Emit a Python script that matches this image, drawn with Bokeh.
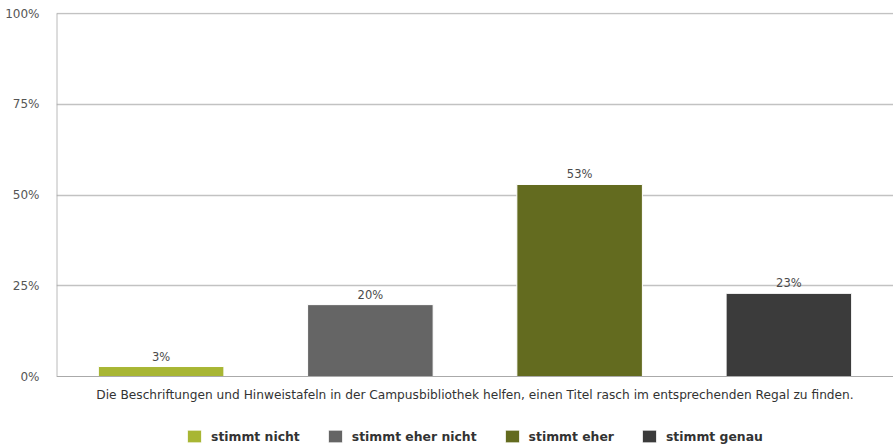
from bokeh.plotting import figure
from bokeh.models import (ColumnDataSource, FactorRange, Range1d, Label, LabelSet, Legend, LegendItem,
                          FixedTicker, CustomJSTickFormatter)
from bokeh.core.properties import value
from bokeh.embed import file_html
from bokeh.resources import INLINE

categories = ["stimmt nicht", "stimmt eher nicht", "stimmt eher", "stimmt genau"]
values = [2.75, 19.8, 52.9, 22.9]
value_labels = ["3%", "20%", "53%", "23%"]
colors = ["#A8B634", "#656565", "#636B1F", "#3B3B3B"]
y_ticks = [0, 25, 50, 75, 100]
question = "Die Beschriftungen und Hinweistafeln in der Campusbibliothek helfen, einen Titel rasch im entsprechenden Regal zu finden."

FONT = "DejaVu Sans"
K = 3.63  # px per percent

src = ColumnDataSource(dict(cat=categories, val=values, lab=value_labels, col=colors))

p = figure(width=893, height=448, x_range=FactorRange(*categories, range_padding=0),
           y_range=Range1d(-72 / K, 100 + 1 / K), output_backend="svg", toolbar_location=None,
           min_border_left=56, min_border_right=0, min_border_top=12, min_border_bottom=0)
p.outline_line_color = None
p.background_fill_color = "white"
p.border_fill_color = "white"

r = p.vbar(x="cat", top="val", width=0.6, source=src, fill_color="col", line_color="white", line_width=1)

p.xaxis.visible = False
p.xgrid.grid_line_color = None
p.ygrid.grid_line_color = "#C2C2C2"
p.ygrid.grid_line_width = 1.3
p.ygrid.ticker = FixedTicker(ticks=y_ticks[1:])
p.yaxis.ticker = FixedTicker(ticks=y_ticks)
p.yaxis.formatter = CustomJSTickFormatter(code="return tick + '%';")
p.yaxis.major_tick_line_color = None
p.yaxis.minor_tick_line_color = None
p.yaxis.axis_line_color = None
p.yaxis.major_label_standoff = 11
p.yaxis.major_label_text_font = FONT
p.yaxis.major_label_text_font_size = "12px"
p.yaxis.major_label_text_color = "#555555"

# axis lines
p.segment(x0=[0.0015], y0=[0], x1=[0.0015], y1=[100], line_color="#AAAAAA", line_width=1.2)
p.segment(x0=[0], y0=[0], x1=[4], y1=[0], line_color="#AAAAAA", line_width=1.2)

labels = LabelSet(x="cat", y="val", text="lab", source=src, text_align="center", text_baseline="middle",
                  y_offset=10, text_font=value(FONT), text_font_size=value("11.5px"), text_color=value("#4A4A4A"))
p.add_layout(labels)

p.add_layout(Label(x=2, y=-18 / K, text=question, text_align="center", text_baseline="middle",
                   text_font=FONT, text_font_size="12.2px", text_color="#333333"))

items = [LegendItem(label=c, renderers=[r], index=i) for i, c in enumerate(categories)]
legend = Legend(items=items, orientation="horizontal", location=(129, 4),
                glyph_width=18, glyph_height=16, label_standoff=8, spacing=26,
                padding=0, margin=0, border_line_color=None, background_fill_alpha=0,
                label_text_font=FONT, label_text_font_size="12.4px", label_text_font_style="bold",
                label_text_color="#333333", label_height=16)
p.add_layout(legend, "center")

open("out.html", "w").write(file_html(p, INLINE))
